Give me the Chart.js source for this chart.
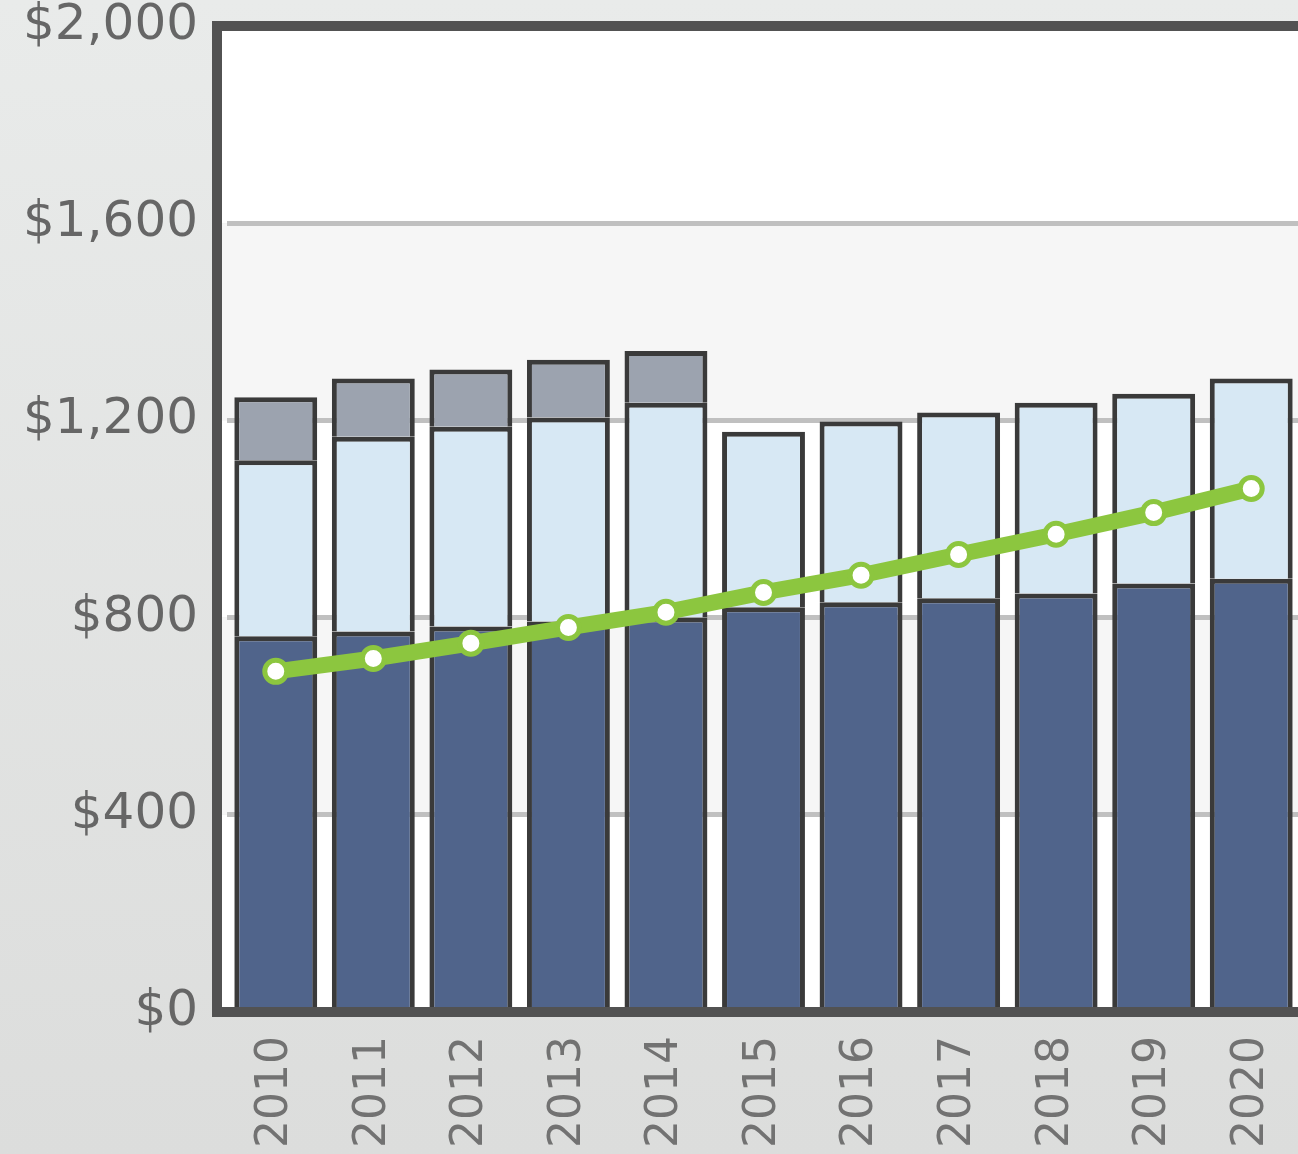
<!DOCTYPE html>
<html>
<head>
<meta charset="utf-8">
<script src="https://cdn.jsdelivr.net/npm/chart.js@4"></script>
<style>
  html, body { margin: 0; padding: 0; overflow: hidden; }
  body { background: linear-gradient(#e9ebea, #dcdddc); width: 1298px; height: 1154px; }
  #wrap { position: relative; width: 1300px; height: 1154px; }
</style>
</head>
<body>
<div id="wrap"><canvas id="costChart"></canvas></div>
<script>
const years = ["2010","2011","2012","2013","2014","2015","2016","2017","2018","2019","2020"];
const baseCost = [762, 772, 782, 792, 800, 821, 831, 839, 849, 869, 879];
const midCost = [357, 395, 405, 414, 436, 356, 367, 377, 387, 385, 406];
const topCost = [128, 118, 116, 117, 105, null, null, null, null, null, null];
const trend = [691, 717, 748, 780, 811, 851, 886, 928, 969, 1013, 1062];
const yTicks = [0, 400, 800, 1200, 1600, 2000];

const outline = "#3a3a3a";

// alternating white / light gray bands behind the plot, thick frame on top
const framePlugin = {
  id: "frame",
  beforeDraw(chart) {
    const ctx = chart.ctx;
    const area = chart.chartArea;
    const y = chart.scales.y;
    const left = area.left - 10;
    ctx.save();
    for (let i = yTicks.length - 1; i > 0; i--) {
      const top = y.getPixelForValue(yTicks[i]);
      const bot = y.getPixelForValue(yTicks[i - 1]);
      ctx.fillStyle = (yTicks.length - 1 - i) % 2 === 0 ? "#ffffff" : "#f6f6f6";
      ctx.fillRect(left, top, chart.width - left, bot - top);
    }
    ctx.restore();
  },
  afterDatasetsDraw(chart) {
    const ctx = chart.ctx;
    const area = chart.chartArea;
    const left = area.left - 10;
    ctx.save();
    ctx.strokeStyle = "#525252";
    ctx.lineWidth = 10;
    ctx.beginPath();
    ctx.moveTo(chart.width + 10, area.top);
    ctx.lineTo(left, area.top);
    ctx.lineTo(left, area.bottom);
    ctx.lineTo(chart.width + 10, area.bottom);
    ctx.stroke();
    ctx.restore();
  }
};

const barStyle = {
  type: "bar",
  stack: "cost",
  order: 1,
  borderColor: outline,
  borderWidth: 5,
  borderSkipped: "start",
  categoryPercentage: 1,
  barPercentage: 0.85
};

const ctx = document.getElementById("costChart").getContext("2d");

const myChart = new Chart(ctx, {
  data: {
    labels: years,
    datasets: [
      {
        type: "line",
        label: "Trend",
        data: trend,
        order: 0,
        stack: "trend",
        borderColor: "#8cc63f",
        borderWidth: 16,
        pointRadius: 11,
        pointHoverRadius: 11,
        pointBorderWidth: 5,
        pointBackgroundColor: "#ffffff",
        pointBorderColor: "#8cc63f",
        tension: 0
      },
      Object.assign({ label: "Base", data: baseCost, backgroundColor: "#50648b" }, barStyle),
      Object.assign({ label: "Mid", data: midCost, backgroundColor: "#d7e8f4" }, barStyle),
      Object.assign({ label: "Top", data: topCost, backgroundColor: "#9ca3af" }, barStyle)
    ]
  },
  options: {
    responsive: true,
    maintainAspectRatio: false,
    animation: false,
    layout: { autoPadding: false, padding: 0 },
    plugins: {
      legend: { display: false },
      tooltip: { enabled: false }
    },
    scales: {
      x: {
        stacked: true,
        offset: true,
        grid: { display: false },
        border: { display: false },
        ticks: {
          minRotation: 90,
          maxRotation: 90,
          padding: 16,
          color: "#727272",
          font: { family: "DejaVu Sans", size: 44, lineHeight: 0.5 }
        },
        afterFit(scale) { scale.height = 142; }
      },
      y: {
        stacked: true,
        min: 0,
        max: 2000,
        afterBuildTicks(scale) { scale.ticks = yTicks.map(v => ({ value: v })); },
        grid: { color: "#c0c0c0", lineWidth: 5, drawTicks: false },
        border: { display: false },
        ticks: {
          padding: 29,
          color: "#666666",
          font: { family: "DejaVu Sans", size: 50, lineHeight: 1 },
          callback: v => "$" + v.toLocaleString("en-US")
        },
        afterFit(scale) {
          scale.width = 227;
          scale.paddingTop = 26;
        }
      }
    }
  },
  plugins: [framePlugin]
});
</script>
</body>
</html>
